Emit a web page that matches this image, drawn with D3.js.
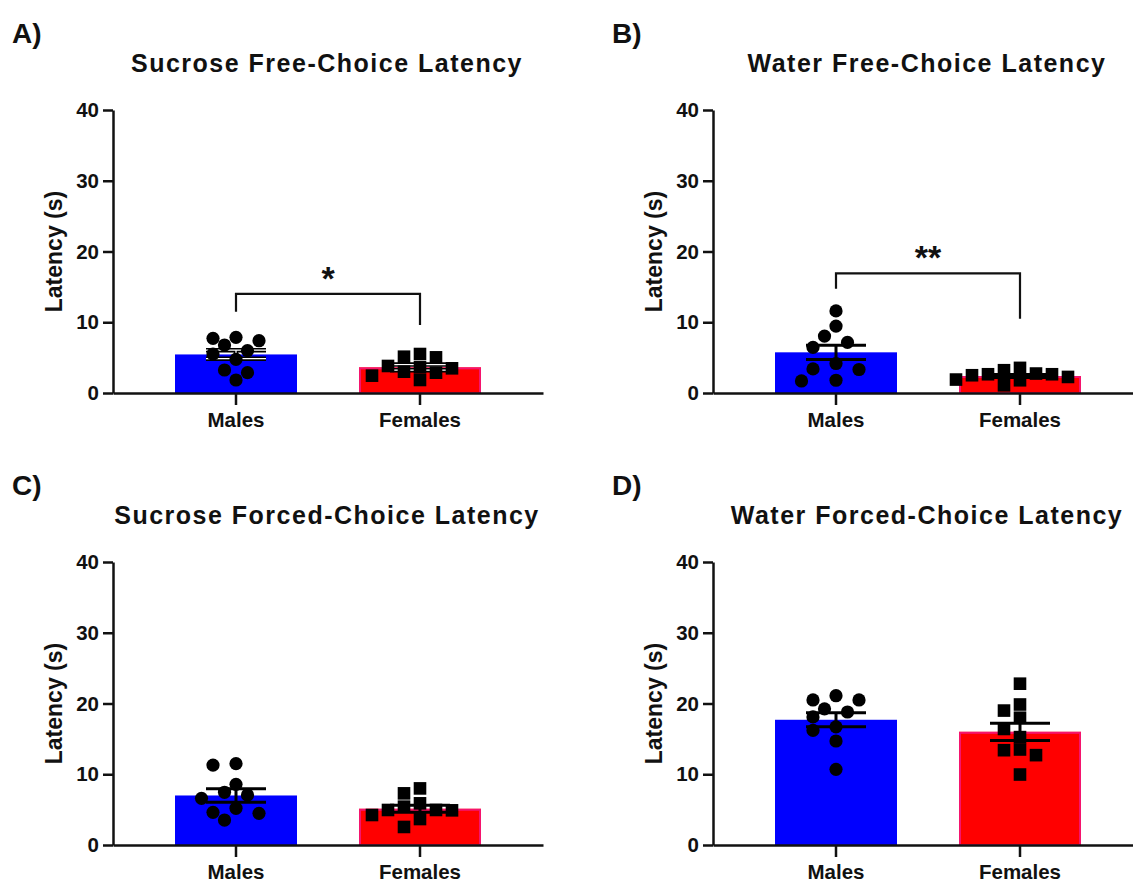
<!DOCTYPE html>
<html>
<head>
<meta charset="utf-8">
<script src="https://cdn.jsdelivr.net/npm/d3@7"></script>
<style>
  html, body { margin: 0; padding: 0; background: #ffffff; }
  svg { display: block; font-family: "Liberation Sans", Arial, Helvetica, sans-serif; }
</style>
</head>
<body>
<svg id="chart" width="1133" height="884"></svg>
<script>
// ---------------- DATA ----------------
const categories = ["Males", "Females"];
const panelLabels = ["A)", "B)", "C)", "D)"];
const panelTitles = [
  "Sucrose Free-Choice Latency",
  "Water Free-Choice Latency",
  "Sucrose Forced-Choice Latency",
  "Water Forced-Choice Latency"
];
const yLabel = "Latency (s)";
const yTicks = [0, 10, 20, 30, 40];
const yMax = 40;

// individual animals (seconds)
const sucFreeMales   = [7.87, 7.73, 7.39, 6.78, 5.98, 5.51, 4.76, 3.25, 2.87, 1.84];
const sucFreeFemales = [5.51, 5.13, 5.04, 3.82, 3.63, 3.49, 3.01, 2.87, 2.45, 1.84];
const watFreeMales   = [11.6, 9.46, 8.04, 7.15, 6.44, 4.17, 3.40, 3.32, 1.80, 1.70];
const watFreeFemales = [3.55, 3.22, 2.75, 2.65, 2.65, 2.51, 2.27, 1.90, 1.80, 1.09];
const sucForcMales   = [11.5, 11.3, 8.58, 7.45, 7.07, 6.60, 5.19, 4.62, 4.48, 3.53];
const sucForcFemales = [8.00, 7.30, 5.89, 5.42, 4.95, 4.95, 4.90, 4.24, 3.67, 2.55];
const watForcMales   = [21.1, 20.5, 20.5, 19.25, 18.8, 18.1, 16.7, 16.2, 14.7, 10.7];
const watForcFemales = [22.8, 19.86, 19.0, 17.99, 16.4, 15.25, 13.5, 13.4, 12.7, 9.96];

// bar means and SEM [Males, Females]
const sucFreeMean = [5.45, 3.62];  const sucFreeSem = [0.60, 0.40];
const watFreeMean = [5.75, 2.40];  const watFreeSem = [1.00, 0.22];
const sucForcMean = [7.00, 5.12];  const sucForcSem = [0.94, 0.50];
const watForcMean = [17.7, 16.0];  const watForcSem = [1.00, 1.22];

// significance brackets: [top, left leg end, right leg end] in seconds
const sigFreeSucrose = { top: 14.0, left: 11.5, right: 9.6, text: "*" };
const sigFreeWater   = { top: 16.9, left: 14.75, right: 10.5, text: "**" };

// ---------------- LAYOUT ----------------
const svg = d3.select("#chart");
const colX = [113, 713];
const rowBase = [393, 845];
const plotW = 430, plotH = 283;
const colors = { Males: "#0000ff", Females: "#ff0000" };

const panels = [
  { label: panelLabels[0], title: panelTitles[0], pts: [sucFreeMales, sucFreeFemales], mean: sucFreeMean, sem: sucFreeSem, sig: sigFreeSucrose, col: 0, row: 0, hollow: true },
  { label: panelLabels[1], title: panelTitles[1], pts: [watFreeMales, watFreeFemales], mean: watFreeMean, sem: watFreeSem, sig: sigFreeWater, col: 1, row: 0, hollow: false },
  { label: panelLabels[2], title: panelTitles[2], pts: [sucForcMales, sucForcFemales], mean: sucForcMean, sem: sucForcSem, sig: null, col: 0, row: 1, hollow: false },
  { label: panelLabels[3], title: panelTitles[3], pts: [watForcMales, watForcFemales], mean: watForcMean, sem: watForcSem, sig: null, col: 1, row: 1, hollow: false }
];

// simple beeswarm: place each point at the smallest horizontal offset free of overlap
function swarm(vals, y, cx, square) {
  const step = square ? 8 : 11.5, minD = square ? 12 : 13.2;
  const placed = [];
  vals.forEach(v => {
    const py = y(v);
    for (let k = 0; k < 40; k++) {
      const offs = k === 0 ? [0] : [-k * step, k * step];
      let done = false;
      for (const o of offs) {
        const px = cx + o;
        const hit = placed.some(p => square
          ? (Math.abs(p.x - px) < minD && Math.abs(p.y - py) < minD)
          : Math.hypot(p.x - px, p.y - py) < minD);
        if (!hit) { placed.push({ x: px, y: py, v }); done = true; break; }
      }
      if (done) break;
    }
  });
  return placed;
}

panels.forEach(p => {
  const x0 = colX[p.col], base = rowBase[p.row];
  const y = d3.scaleLinear().domain([0, yMax]).range([base, base - plotH]);
  const x = d3.scaleBand().domain(categories).range([x0, x0 + plotW]).padding(0.337);
  const g = svg.append("g");

  // panel letter
  g.append("text").attr("x", x0 - 101).attr("y", base - 350)
    .attr("font-size", 28).attr("font-weight", "bold").attr("fill", "#111").text(p.label);
  // title
  g.append("text").attr("x", x0 + 214).attr("y", base - 321)
    .attr("text-anchor", "middle").attr("font-size", 25).attr("font-weight", "bold")
    .attr("letter-spacing", 1.5).attr("fill", "#111").text(p.title);
  // y label
  g.append("text").attr("transform", `translate(${x0 - 51},${base - plotH / 2}) rotate(-90)`)
    .attr("text-anchor", "middle").attr("font-size", 23).attr("font-weight", "bold")
    .attr("fill", "#111").text(yLabel);

  // bars
  categories.forEach((c, i) => {
    g.append("rect")
      .attr("x", x(c)).attr("width", x.bandwidth())
      .attr("y", y(p.mean[i])).attr("height", base - y(p.mean[i]))
      .attr("fill", colors[c]);
    if (c === "Females") {
      g.append("rect")
        .attr("x", x(c) + 1).attr("width", x.bandwidth() - 2)
        .attr("y", y(p.mean[i]) + 1).attr("height", base - y(p.mean[i]) - 1)
        .attr("fill", "none").attr("stroke", "#f5146e").attr("stroke-width", 2);
    }
  });

  // error bars (SEM)
  categories.forEach((c, i) => {
    const cx = x(c) + x.bandwidth() / 2;
    const hi = y(p.mean[i] + p.sem[i]), lo = y(p.mean[i] - p.sem[i]);
    const path = `M${cx - 30},${hi}H${cx + 30}M${cx},${hi}V${lo}M${cx - 30},${lo}H${cx + 30}`;
    g.append("path").attr("d", path).attr("fill", "none")
      .attr("stroke", "#000").attr("stroke-width", p.hollow ? 4.5 : 3);
    if (p.hollow) {
      g.append("path").attr("d", path).attr("fill", "none")
        .attr("stroke", "#fff").attr("stroke-width", 1.3);
    }
  });

  // individual points
  categories.forEach((c, i) => {
    const cx = x(c) + x.bandwidth() / 2;
    const sq = c === "Females";
    const pts = swarm(p.pts[i], y, cx, sq);
    if (sq) {
      g.selectAll(null).data(pts).enter().append("rect")
        .attr("x", d => d.x - 6.3).attr("y", d => d.y - 6.3)
        .attr("width", 12.6).attr("height", 12.6).attr("fill", "#000");
    } else {
      g.selectAll(null).data(pts).enter().append("circle")
        .attr("cx", d => d.x).attr("cy", d => d.y).attr("r", 6.6).attr("fill", "#000");
    }
  });

  // axes
  const ya = g.append("g").attr("transform", `translate(${x0},0)`)
    .call(d3.axisLeft(y).tickValues(yTicks).tickSize(10).tickSizeOuter(0).tickPadding(4));
  const xa = g.append("g").attr("transform", `translate(0,${base})`)
    .call(d3.axisBottom(x).tickSize(12).tickSizeOuter(0).tickPadding(7));
  [ya, xa].forEach(a => {
    a.select(".domain").attr("stroke", "#111").attr("stroke-width", 2.5);
    a.selectAll(".tick line").attr("stroke", "#111").attr("stroke-width", 2.5);
    a.selectAll(".tick text").attr("fill", "#111").attr("font-size", 20.5)
      .attr("font-weight", "bold").attr("font-family", "'Liberation Sans', Arial, sans-serif");
  });

  // significance bracket
  if (p.sig) {
    const lx = x(categories[0]) + x.bandwidth() / 2;
    const rx = x(categories[1]) + x.bandwidth() / 2;
    g.append("path")
      .attr("d", `M${lx},${y(p.sig.left)}V${y(p.sig.top)}H${rx}V${y(p.sig.right)}`)
      .attr("fill", "none").attr("stroke", "#111").attr("stroke-width", 2.2);
    g.append("text").attr("x", (lx + rx) / 2).attr("y", y(p.sig.top) - 4)
      .attr("text-anchor", "middle").attr("font-size", 34).attr("font-weight", "bold")
      .attr("fill", "#111").text(p.sig.text);
  }
});
</script>
</body>
</html>
